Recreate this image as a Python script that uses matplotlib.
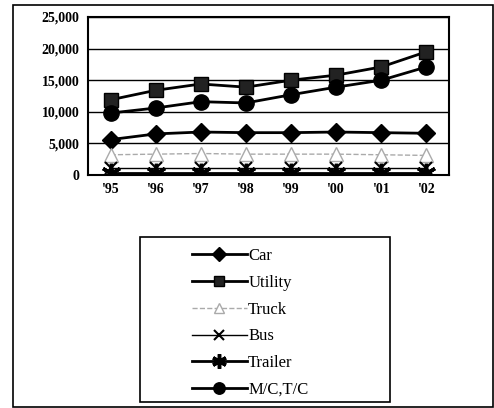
import matplotlib.pyplot as plt
import matplotlib.patches as patches

years = ["'95", "'96", "'97", "'98", "'99", "'00", "'01", "'02"]
car = [5600, 6500, 6800, 6700, 6700, 6800, 6700, 6600]
utility = [11900, 13400, 14400, 13900, 15000, 15800, 17100, 19500]
truck = [3200, 3300, 3400, 3300, 3300, 3300, 3200, 3100]
bus = [1100, 1100, 1100, 1100, 1100, 1100, 1100, 1100]
trailer = [300, 300, 300, 300, 300, 300, 300, 300]
mctc = [9800, 10600, 11600, 11400, 12700, 13900, 15000, 17100]

plt.rcParams['font.family'] = ['Liberation Serif', 'DejaVu Serif']

fig = plt.figure(figsize=(4.94, 4.08), dpi=100)
ax = fig.add_axes([88/494, 1-175/408, (449-88)/494, (175-17)/408])

x = range(len(years))
ax.plot(x, car, color='black', lw=2, marker='D', ms=9, label='Car')
ax.plot(x, utility, color='black', lw=2, marker='s', ms=10, mfc='#222222', label='Utility')
ax.plot(x, truck, color='#aaaaaa', lw=1, ls='--', marker='^', ms=10, mfc='white', mec='#aaaaaa', label='Truck')
ax.plot(x, bus, color='black', lw=1, marker='x', ms=9, mew=1.5, label='Bus')
ax.plot(x, trailer, color='black', lw=2, marker=(6, 2, 0), ms=14, mew=2.5, label='Trailer')
ax.plot(x, mctc, color='black', lw=2, marker='o', ms=11, label='M/C,T/C')

ax.set_xlim(-0.5, 7.5)
ax.set_ylim(0, 25000)
ax.set_yticks(range(0, 25001, 5000))
ax.set_yticklabels(['{:,}'.format(v) for v in range(0, 25001, 5000)], fontsize=10, fontweight='bold')
ax.set_xticks(list(x))
ax.set_xticklabels(years, fontsize=10, fontweight='bold')
ax.tick_params(length=0, pad=6)
ax.grid(axis='y', color='black', lw=1)
ax.set_axisbelow(True)
for s in ax.spines.values():
    s.set_linewidth(1.5)

# legend box
fig.add_artist(patches.Rectangle((140/494, 1-402/408), 250/494, 165/408,
                                 transform=fig.transFigure, fill=False, lw=1.2, ec='black'))
fig.legend(loc='center', bbox_to_anchor=(250/494, 1-323/408), frameon=False,
           fontsize=12, handlelength=3.3, labelspacing=0.65, handletextpad=0.1,
           markerscale=0.75)

# outer border
fig.add_artist(patches.Rectangle((13/494, 1-407/408), 480/494, 402/408,
                                 transform=fig.transFigure, fill=False, lw=1.2, ec='black'))

fig.savefig('out.png', dpi=100)
